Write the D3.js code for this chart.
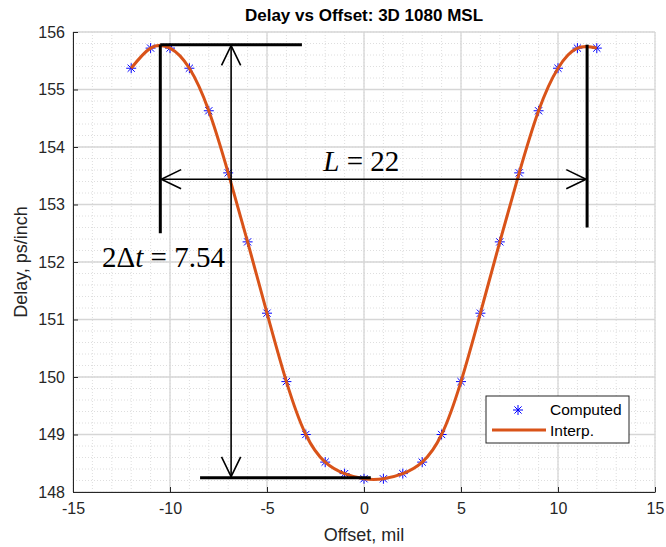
<!DOCTYPE html>
<html>
<head>
<meta charset="utf-8">
<script src="https://cdn.jsdelivr.net/npm/d3@7"></script>
<style>
  body { margin: 0; background: #fff; }
  svg { font-family: "Liberation Sans", Arial, sans-serif; display: block; }
</style>
</head>
<body>
<svg id="chart" width="666" height="547"></svg>
<script>
// computed delay at each offset
const offsets = [-12, -11, -10, -9, -8, -7, -6, -5, -4, -3, -2, -1, 0, 1, 2, 3, 4, 5, 6, 7, 8, 9, 10, 11, 12];
const delays = [155.37, 155.72, 155.72, 155.37, 154.63, 153.55, 152.35, 151.11, 149.92, 149.0, 148.52, 148.32, 148.23,
                148.23, 148.32, 148.52, 149.0, 149.92, 151.11, 152.35, 153.55, 154.63, 155.37, 155.72, 155.72];

const xTicks = [-15, -10, -5, 0, 5, 10, 15];
const yTicks = [148, 149, 150, 151, 152, 153, 154, 155, 156];

// annotation values (data units)
const peakX = [-10.5, 11.5];        // L = 22
const peakLineBottom = [152.5, 152.6];
const maxDelay = 155.78, minDelay = 148.25;
const topLineX = [-10.5, -3.2];
const bottomLineX = [-8.45, 0.35];
const dtArrowX = -6.85;
const lArrowY = 153.44;

const svg = d3.select("#chart");
const margin = { left: 73, right: 11, top: 32, bottom: 55 };
const W = 666, H = 547;

const x = d3.scaleLinear().domain([-15, 15]).range([margin.left, W - margin.right]);
const y = d3.scaleLinear().domain([148, 156]).range([H - margin.bottom, margin.top]);

// minor grid
const grid = svg.append("g");
grid.selectAll(".mx")
    .data(d3.range(-15, 15.01, 1))
    .enter().append("line")
    .attr("x1", d => x(d)).attr("x2", d => x(d))
    .attr("y1", y(148)).attr("y2", y(156))
    .attr("stroke", "#dedede").attr("stroke-dasharray", "1,2");
grid.selectAll(".my")
    .data(d3.range(148, 156.001, 0.2))
    .enter().append("line")
    .attr("y1", d => y(d)).attr("y2", d => y(d))
    .attr("x1", x(-15)).attr("x2", x(15))
    .attr("stroke", "#dedede").attr("stroke-dasharray", "1,2");

// major grid
grid.selectAll(".gx")
    .data(xTicks)
    .enter().append("line")
    .attr("x1", d => x(d)).attr("x2", d => x(d))
    .attr("y1", y(148)).attr("y2", y(156))
    .attr("stroke", "#d6d6d6").attr("stroke-width", 1.3);
grid.selectAll(".gy")
    .data(yTicks)
    .enter().append("line")
    .attr("y1", d => y(d)).attr("y2", d => y(d))
    .attr("x1", x(-15)).attr("x2", x(15))
    .attr("stroke", "#d6d6d6").attr("stroke-width", 1.3);

// axes
const xAxis = svg.append("g")
    .attr("transform", `translate(0,${y(148)})`)
    .call(d3.axisBottom(x).tickValues(xTicks).tickSizeInner(-5).tickSizeOuter(0).tickPadding(11)
        .tickFormat(d => d < 0 ? "-" + Math.abs(d) : d));
const yAxis = svg.append("g")
    .attr("transform", `translate(${x(-15)},0)`)
    .call(d3.axisLeft(y).tickValues(yTicks).tickSizeInner(-5).tickSizeOuter(0).tickPadding(8));
[xAxis, yAxis].forEach(a => {
    a.select(".domain").attr("stroke", "#262626");
    a.selectAll(".tick line").attr("stroke", "#262626");
    a.selectAll(".tick text").attr("fill", "#262626")
        .style("font-size", "16px").style("font-family", "Liberation Sans, Arial, sans-serif");
});

// computed points
const star = "M-5,0H5M0,-5V5M-3.6,-3.6L3.6,3.6M-3.6,3.6L3.6,-3.6";
svg.append("g").selectAll("path")
    .data(offsets)
    .enter().append("path")
    .attr("d", star)
    .attr("transform", (d, i) => `translate(${x(d)},${y(delays[i])})`)
    .attr("stroke", "#0000ff").attr("stroke-width", 1).attr("fill", "none");

// interpolated curve
const line = d3.line()
    .x((d, i) => x(d))
    .y((d, i) => y(delays[i]))
    .curve(d3.curveNatural);
svg.append("path")
    .datum(offsets)
    .attr("d", line)
    .attr("fill", "none")
    .attr("stroke", "#d95319")
    .attr("stroke-width", 3);

// annotations
const ann = svg.append("g").attr("stroke", "#000").attr("fill", "none");
peakX.forEach((px, i) => {
    ann.append("line")
        .attr("x1", x(px)).attr("x2", x(px))
        .attr("y1", y(maxDelay)).attr("y2", y(peakLineBottom[i]))
        .attr("stroke-width", 3);
});
ann.append("line")
    .attr("x1", x(topLineX[0])).attr("x2", x(topLineX[1]))
    .attr("y1", y(maxDelay)).attr("y2", y(maxDelay))
    .attr("stroke-width", 3);
ann.append("line")
    .attr("x1", x(bottomLineX[0])).attr("x2", x(bottomLineX[1]))
    .attr("y1", y(minDelay)).attr("y2", y(minDelay))
    .attr("stroke-width", 3);

// double arrows
function arrow(x1, y1, x2, y2) {
    const a = Math.atan2(y2 - y1, x2 - x1);
    const len = 22, wing = 0.45;
    ann.append("line")
        .attr("x1", x1).attr("y1", y1).attr("x2", x2).attr("y2", y2)
        .attr("stroke-width", 1.6);
    [[x1, y1, a], [x2, y2, a + Math.PI]].forEach(([px, py, ang]) => {
        const p1 = [px + len * Math.cos(ang + wing), py + len * Math.sin(ang + wing)];
        const p2 = [px + len * Math.cos(ang - wing), py + len * Math.sin(ang - wing)];
        ann.append("path")
            .attr("d", `M${p1[0]},${p1[1]}L${px},${py}L${p2[0]},${p2[1]}`)
            .attr("stroke-width", 1.6);
    });
}
arrow(x(dtArrowX), y(maxDelay) + 1, x(dtArrowX), y(minDelay) - 1);
arrow(x(peakX[0]) + 1, y(lArrowY), x(peakX[1]) - 1, y(lArrowY));

// annotation text
const serif = "Liberation Serif, Times New Roman, serif";
const t1 = svg.append("text")
    .attr("x", x(-2.1)).attr("y", y(153.58))
    .style("font-family", serif).style("font-size", "29px");
t1.append("tspan").style("font-style", "italic").text("L");
t1.append("tspan").text(" = 22");

const t2 = svg.append("text")
    .attr("x", x(-13.5)).attr("y", y(151.91))
    .style("font-family", serif).style("font-size", "29px");
t2.append("tspan").text("2Δ");
t2.append("tspan").style("font-style", "italic").text("t");
t2.append("tspan").text(" = 7.54");

// title and labels
svg.append("text")
    .attr("x", x(0)).attr("y", 21)
    .attr("text-anchor", "middle")
    .style("font-weight", "bold").style("font-size", "17px").attr("fill", "#000")
    .text("Delay vs Offset: 3D 1080 MSL");
svg.append("text")
    .attr("x", x(0)).attr("y", 541)
    .attr("text-anchor", "middle")
    .style("font-size", "18px").attr("fill", "#262626")
    .text("Offset, mil");
svg.append("text")
    .attr("transform", `translate(27,${(y(148) + y(156)) / 2}) rotate(-90)`)
    .attr("text-anchor", "middle")
    .style("font-size", "18px").attr("fill", "#262626")
    .text("Delay, ps/inch");

// legend
const lg = svg.append("g").attr("transform", "translate(486,396)");
lg.append("rect")
    .attr("width", 143).attr("height", 47)
    .attr("fill", "#fff").attr("stroke", "#262626").attr("stroke-width", 1);
lg.append("path")
    .attr("d", star)
    .attr("transform", "translate(32,14)")
    .attr("stroke", "#0000ff").attr("fill", "none");
lg.append("line")
    .attr("x1", 6).attr("x2", 60).attr("y1", 34).attr("y2", 34)
    .attr("stroke", "#d95319").attr("stroke-width", 3);
lg.append("text").attr("x", 64).attr("y", 19).style("font-size", "15.5px").attr("fill", "#000").text("Computed");
lg.append("text").attr("x", 64).attr("y", 40).style("font-size", "15.5px").attr("fill", "#000").text("Interp.");
</script>
</body>
</html>
